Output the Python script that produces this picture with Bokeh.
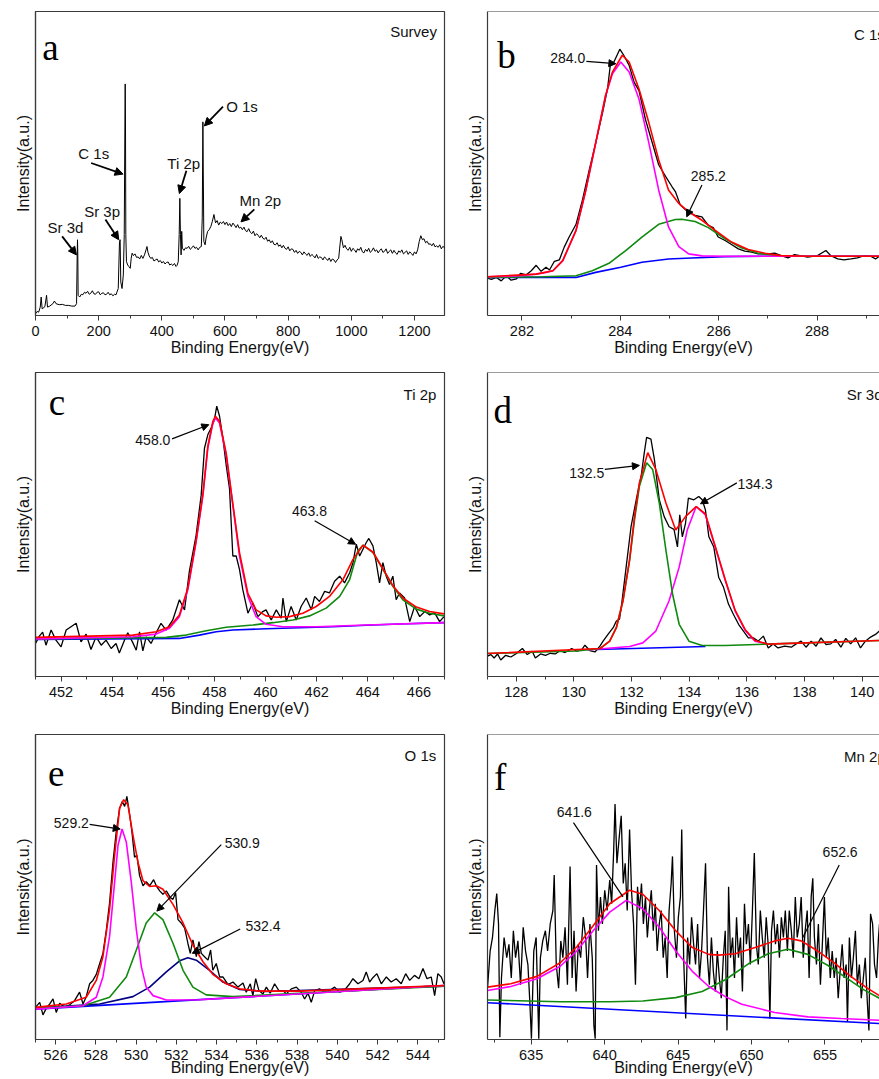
from bokeh.plotting import figure
from bokeh.layouts import row, column
from bokeh.models import Range1d, SingleIntervalTicker, FixedTicker, Label, Arrow, NormalHead, Span
from bokeh.embed import file_html
from bokeh.resources import INLINE

SANS = "Liberation Sans"
SERIF = "Liberation Serif"

# ---------------- data (binding energy eV, intensity a.u.) ----------------
a_survey = [(0,1.7),(5,4),(10,3.3),(15,8.3),(18,18.3),(21,6.7),(25,7.3),(30,9.3),(35,20),(38,8.3),(45,9.3),(55,11.7),(60,14.3),(65,11.7),(75,10.7),(85,11),(95,10),(105,10),(115,9.3),(125,9.3),(130,11.7),(132,60),(133,75),(134,60),(135,20),
            (140,18.3),(145,21),(150,20.5),(155,23),(160,22),(165,24),(170,21),(175,22),(180,24.5),(185,21.5),(190,21),(195,23),(200,23.5),(205,20.5),(210,22),(215,22.5),(220,20.5),(225,21),(230,23),(235,20.5),(240,21.5),(245,19.5),(250,21),(255,20.5),(258,23.3),
            (262,26.7),(266,73.3),(268,75),(270,33.3),(274,26.7),(278,40),(281,80),(283,186.7),(284,229.3),(285,186.7),(286,80),(288,53.3),(292,50),(296,48.3),
            (300,46.7),(303,56.7),(306,61.7),(310,59.3),(315,61),(320,57.5),(325,58),(330,56),(335,59.5),(340,56.5),(345,60),(350,65),(353,68.3),(356,62.7),(360,59),(365,56.5),(370,57.5),(375,54),(380,55),(385,56),(390,53),(395,54.5),(400,52),(405,53.5),(410,51),(415,52.5),(420,53),(425,50),(430,51),(435,49.5),(440,51.5),(445,48.5),(448,49.5),(452,53.3),
            (455,80),(457,116),(459,80),(461,60),(463,83.3),(465,66.7),(470,64.5),(475,67),(480,66.5),(485,68.5),(490,65.5),(495,67),(500,69),(505,66.5),(510,67.5),(515,65),(520,67.5),(525,68.3),
            (528,96.7),(530,191.7),(531,150),(532,113.3),(533,73.3),(537,70),
            (540,76.7),(545,83.3),(550,85),(555,88),(560,93.3),(565,100),(570,91.7),(575,94),(580,89.5),(585,92.5),(590,91),(595,93),
            (600,90),(605,92.5),(610,89),(615,91),(620,88),(625,91.5),(630,89.5),(635,87),(640,90),(645,86.5),(650,87.5),(655,85),(660,87.5),(665,84),(670,83),(675,86),(680,82.5),(685,81),(690,83.5),(695,79),(700,81),(705,79.5),(710,77),(715,79.5),(720,76.5),(725,75.5),(730,77.5),(735,73.5),(740,75),(745,72),(750,74),(755,70.5),(760,70),(765,72),(770,68.5),(775,70),(780,67),(785,69.5),(790,66.5),(795,65.5),(800,68),(805,64),(810,66),(815,65.5),(820,62.5),(825,64.5),(830,61.5),(835,63.5),(840,62.5),(845,60),(850,63),(855,61),(860,59.5),(865,62),(870,58.5),(875,60.5),(880,59),(885,57),(890,60.5),(895,56.5),(900,58),(905,57.5),(910,55),(915,58),(920,56.5),(925,54.5),(930,57),(935,53.5),(940,56),(945,55),(950,52.5),(955,55),(960,56.7),
            (963,66.7),(967,78.3),(970,75),(975,67),(980,69.5),(985,66),(990,64.5),(995,67.5),(1000,63.5),(1005,66.5),(1010,65),(1015,62.5),(1020,66),(1025,64.5),(1030,67.5),(1035,63),(1040,62),(1045,65.5),(1050,63.5),(1055,66.5),(1060,62.5),(1065,64),(1070,67),(1075,63.5),(1080,65),(1085,62),(1090,64.5),(1095,66),(1100,62.5),(1105,63.5),(1110,66),(1115,61.5),(1120,63.5),(1125,65),(1130,61.5),(1135,64.5),(1140,62),(1145,60.5),(1150,64),(1155,62.5),(1160,65),(1165,61),(1170,62.5),(1175,64),(1180,60.5),(1185,63),(1190,61.5),(1195,59.5),(1200,63),(1205,61),(1210,65),
            (1215,73.3),(1220,79),(1225,75),(1230,76),(1235,72),(1240,73.5),(1245,70.5),(1250,71),(1255,69),(1260,71.5),(1265,68),(1270,69),(1275,67.5),(1280,70),(1285,66),(1290,68.5),(1295,67),(1300,66.5)]

b_black = [(281.30,37.0),(281.38,35.7),(281.48,37.7),(281.58,34.3),(281.68,39.3),(281.78,35),(281.89,36.3),(281.97,41.7),(282.09,40.3),(282.19,44.3),(282.29,49.7),(282.39,43.7),(282.49,47.7),(282.56,45),(282.66,53.7),(282.76,55),(282.86,67.7),(282.96,77.7),(283.10,90.3),(283.23,114.3),(283.37,144.3),(283.50,171),(283.64,201),(283.74,224.3),(283.80,249.3),(283.87,251),(283.99,263.7),(284.07,257.7),(284.18,247.7),(284.28,231),(284.38,222.7),(284.51,194.3),(284.65,171),(284.78,149.3),(284.92,137.7),(285.05,127.7),(285.12,122.7),(285.22,109.3),(285.35,103.7),(285.52,99),(285.66,97.7),(285.79,89.3),(285.89,87),(285.99,77.7),(286.13,74.3),(286.26,70.3),(286.40,66),(286.53,63.7),(286.67,62.7),(286.80,61),(287.00,61),(287.14,61.7),(287.27,59.3),(287.41,57),(287.54,60.3),(287.68,59),(287.81,57.7),(288.01,59.3),(288.18,64.3),(288.28,59.3),(288.42,56),(288.55,55),(288.69,56),(288.82,57),(288.96,59.3),(289.09,58.7),(289.19,56),(289.27,58.7)]
b_background = [(281.30,37.7),(283.10,37.7),(283.50,42.7),(284.01,47.7),(284.44,52.7),(284.98,56),(285.45,57),(286.13,58.3),(287.14,58.7),(289.27,58.7)]
b_peak_284 = [(281.30,38.3),(281.95,39.3),(282.29,41),(282.49,42.7),(282.63,44.3),(282.83,54.3),(283.10,84.3),(283.30,124.3),(283.50,171),(283.70,217.7),(283.84,239.3),(284.01,251),(284.18,241),(284.38,214.3),(284.58,171),(284.78,124.3),(284.98,87.7),(285.19,68.3),(285.39,61),(285.66,59),(286.13,58.7),(289.27,58.7)]
b_peak_285 = [(281.30,37.7),(282.42,38.3),(283.10,39.3),(283.43,44.3),(283.77,51.7),(284.11,64.3),(284.44,77.7),(284.78,90.3),(285.12,95),(285.25,95.3),(285.52,93),(285.79,87),(286.13,76),(286.46,67),(286.80,61.7),(287.14,59.3),(287.81,58.7),(289.27,58.7)]
b_envelope = [(281.30,38.3),(282.29,41),(282.63,44.3),(282.83,54.3),(283.10,84.3),(283.30,124.3),(283.50,171),(283.70,217.7),(283.84,241),(284.04,257.7),(284.18,251),(284.38,224.3),(284.58,191),(284.78,154.3),(284.98,124.3),(285.19,111),(285.39,102.7),(285.66,94.3),(285.93,84.3),(286.26,72.7),(286.60,65.3),(286.94,61.7),(287.27,59.3),(287.81,58.7),(289.27,58.7)]

c_black = [(451.00,32.7),(451.15,40),(451.28,44),(451.41,31),(451.61,46),(451.80,36),(452.00,29.3),(452.20,46),(452.39,49.3),(452.59,52.7),(452.78,34.3),(452.98,42),(453.17,26.7),(453.37,39.3),(453.57,31),(453.76,36),(453.96,27.7),(454.15,32.7),(454.28,23.3),(454.48,36),(454.61,43.3),(454.81,33.3),(454.94,26),(455.07,44.3),(455.20,25.3),(455.33,39.3),(455.52,32.7),(455.72,43.3),(455.91,52.7),(456.11,46),(456.37,56),(456.63,76),(456.83,66),(457.02,104.3),(457.28,139.3),(457.48,179.3),(457.61,226),(457.74,239.3),(457.87,246),(458.00,254.3),(458.09,267.7),(458.20,257.7),(458.33,236),(458.46,209.3),(458.59,186),(458.72,119.3),(458.85,119.3),(458.98,106),(459.11,86),(459.31,62.7),(459.50,72.7),(459.70,59.3),(459.89,64.3),(460.02,66),(460.22,56),(460.42,66),(460.61,57.7),(460.68,77.7),(460.81,54.3),(461.00,69.3),(461.20,56),(461.39,69.3),(461.59,77.7),(461.79,66),(461.92,79.3),(462.11,74.3),(462.31,84.3),(462.50,82.7),(462.70,94.3),(462.90,99.3),(463.09,92.7),(463.29,102.7),(463.42,112.7),(463.55,131),(463.68,119.3),(463.81,126),(463.94,132.7),(464.04,136.7),(464.20,129.3),(464.33,112.7),(464.46,92.7),(464.59,112.7),(464.72,99.3),(464.85,91),(464.98,99.3),(465.11,76),(465.24,82.7),(465.44,77.7),(465.64,54.3),(465.83,69.3),(466.03,59.3),(466.23,64.3),(466.42,61),(466.61,63.3),(466.81,54.3),(466.98,59.3)]
c_background = [(451.00,36.7),(456.63,37.7),(457.41,41),(458.07,44.3),(458.72,46),(460.02,47.3),(461.33,48.3),(462.63,49.3),(463.94,50.7),(465.24,52),(466.98,53.3)]
c_peak_4638 = [(451.00,37.3),(456.11,38.7),(456.89,41),(457.68,45.3),(458.46,48.7),(459.50,51),(460.29,53.3),(461.07,56),(461.72,60),(462.37,67.7),(462.90,79.3),(463.29,96),(463.61,124.3),(463.81,130),(464.20,122.7),(464.59,106),(464.98,89.3),(465.37,76),(465.90,66.7),(466.42,62.7),(466.98,60)]
c_peak_4580 = [(451.00,37.3),(454.81,39.3),(455.72,42),(456.24,47.7),(456.63,59.3),(456.96,86),(457.28,132.7),(457.55,179.3),(457.74,226),(457.94,251),(458.04,256),(458.20,251),(458.46,219.3),(458.72,169.3),(458.98,119.3),(459.31,79.3),(459.63,59.3),(460.02,51.7),(460.68,49.3),(461.98,49.3),(463.94,51),(466.98,53.3)]
c_envelope = [(451.00,38.7),(454.81,41),(455.72,44.3),(456.24,49.3),(456.63,61),(456.96,87.7),(457.28,134.3),(457.55,181),(457.74,227.7),(457.94,252.7),(458.04,257.7),(458.20,252.7),(458.46,221),(458.72,171),(458.98,122.7),(459.31,82),(459.63,66),(460.02,60),(460.42,58.7),(460.94,59.3),(461.46,62.7),(461.98,69.3),(462.50,79.3),(463.03,96),(463.42,116),(463.81,130),(464.20,123.3),(464.59,106.7),(464.98,90),(465.37,77.7),(465.90,68.7),(466.42,64.3),(466.98,62)]

d_black = [(126.98,20),(127.12,21.7),(127.23,18.3),(127.35,22.3),(127.46,16.3),(127.63,21),(127.81,19.3),(127.98,22.3),(128.21,27.7),(128.38,21.7),(128.55,25),(128.66,18.3),(128.84,22.3),(129.01,21),(129.18,23),(129.35,22.3),(129.52,25.7),(129.69,23.7),(129.92,27.7),(130.10,25),(130.27,26.7),(130.38,31),(130.55,25.7),(130.73,24.3),(130.90,30),(131.01,35),(131.18,41.7),(131.36,48.3),(131.47,55),(131.58,56.7),(131.64,68.3),(131.81,108.3),(131.98,148.3),(132.16,175),(132.33,198.3),(132.44,221.7),(132.52,236.7),(132.67,235),(132.79,215),(132.96,175),(133.13,158.3),(133.30,148.3),(133.47,145.7),(133.59,128.3),(133.67,160),(133.76,138.3),(133.87,151.7),(133.97,176.7),(134.16,175),(134.33,178.3),(134.45,175),(134.56,165),(134.68,138.3),(134.85,128.3),(135.02,98.3),(135.19,88.3),(135.36,71.7),(135.53,61.7),(135.71,51.7),(135.88,45),(136.05,38.3),(136.22,38.3),(136.39,35),(136.57,40),(136.74,28.3),(136.91,32.3),(137.08,28.3),(137.31,30),(137.54,29),(137.71,32.3),(137.88,35),(138.05,29),(138.23,35),(138.40,30),(138.57,38.3),(138.74,31.7),(138.91,32.3),(139.08,36.7),(139.26,29),(139.43,37.7),(139.60,32.3),(139.77,38.3),(139.94,28.3),(140.11,35),(140.29,39),(140.46,41.7),(140.60,45)]
d_background = [(130.78,26.7),(134.56,29.7)]
d_peak_1325 = [(126.98,22.7),(130.10,25.3),(130.90,27.7),(131.24,35),(131.47,48.3),(131.70,75),(131.93,115),(132.10,155),(132.27,188.3),(132.52,211.7),(132.73,205),(132.96,171.7),(133.19,125),(133.42,81.7),(133.65,51.7),(133.99,35),(134.45,30.7),(135.25,30.7),(136.97,32.3),(140.60,35.7)]
d_peak_1343 = [(130.44,26.3),(131.93,29.7),(132.39,33.3),(132.84,45),(133.30,75),(133.65,108.3),(133.93,145),(134.24,168.3),(134.56,160),(134.90,128.3),(135.25,95),(135.59,65),(135.94,45.7),(136.28,35),(136.74,32),(136.97,32.3)]
d_envelope = [(126.98,22.7),(130.90,27.7),(131.24,35),(131.47,48.3),(131.70,75),(131.93,115.7),(132.10,158.3),(132.27,191.7),(132.56,221.7),(132.84,205),(133.19,171.7),(133.53,145),(133.87,158.3),(134.24,168.3),(134.56,161),(134.90,129),(135.25,95.7),(135.59,65.7),(135.94,46.3),(136.28,35.7),(136.74,32),(136.97,32.3),(140.60,35.7)]

e_black = [(525.00,31.7),(525.21,36.7),(525.37,24.3),(525.54,31),(525.70,35),(525.87,40),(526.03,26.7),(526.20,35.7),(526.45,31.7),(526.70,34.3),(526.94,38.3),(527.19,46.7),(527.36,35),(527.52,42.3),(527.69,55),(527.85,58.3),(528.02,64.3),(528.19,75),(528.35,85),(528.52,108.3),(528.68,135),(528.85,175),(529.01,205),(529.18,228.3),(529.31,235),(529.43,230),(529.54,240),(529.68,221.7),(529.79,205),(529.92,180),(530.04,181.7),(530.17,161.7),(530.34,151.7),(530.50,155.7),(530.67,151.7),(530.87,157.7),(531.00,151.7),(531.17,146.7),(531.33,143.3),(531.50,146.7),(531.70,140),(531.83,138.3),(531.96,145),(532.08,118.3),(532.24,115),(532.41,110),(532.57,95),(532.69,85),(532.82,98.3),(532.99,81.7),(533.12,96.7),(533.24,85),(533.40,81.7),(533.57,78.3),(533.70,88.3),(533.81,68.3),(533.98,75),(534.15,61.7),(534.31,61.7),(534.56,54.3),(534.81,56.7),(535.06,51.7),(535.31,55.7),(535.47,46.7),(535.67,55),(535.80,43.3),(535.94,60),(536.10,48.3),(536.30,45),(536.47,51.7),(536.66,45.7),(536.88,55),(537.09,48.3),(537.29,48.3),(537.46,45),(537.71,50),(537.96,51.7),(538.20,46.7),(538.37,40),(538.54,45.7),(538.70,36.7),(538.87,48.3),(539.11,50),(539.36,46.7),(539.61,48.3),(539.86,51.7),(540.11,46.7),(540.36,49),(540.61,55),(540.77,60),(541.02,55),(541.27,58.3),(541.43,66.7),(541.60,56.7),(541.76,61),(541.96,65),(542.18,55),(542.43,61.7),(542.67,56.7),(542.92,60),(543.17,55),(543.39,65),(543.59,58.3),(543.83,63.3),(544.05,60),(544.25,70),(544.45,60),(544.66,61.7),(544.83,43.3),(544.99,65),(545.16,61.7),(545.29,55)]
e_background = [(525.00,30),(545.29,53.3)]
e_peak_5292 = [(525.00,30),(527.36,33.3),(528.02,41.7),(528.35,61.7),(528.68,101.7),(528.93,155),(529.10,191.7),(529.30,207.7),(529.51,195),(529.76,155),(530.01,108.3),(530.26,71.7),(530.50,51.7),(530.84,43.3),(531.50,39),(533.15,39.3),(545.29,53.3)]
e_peak_5309 = [(525.00,31),(527.36,33.3),(528.68,41.7),(529.51,61.7),(530.01,88.3),(530.50,115),(530.92,125),(531.33,118.3),(531.83,95),(532.33,68.3),(532.82,51.7),(533.48,44),(534.81,42.3),(545.29,52.7)]
e_peak_5324 = [(525.00,31),(528.19,35),(529.84,42.3),(530.67,51.7),(531.50,66.7),(532.16,77.7),(532.57,80.7),(532.99,78.3),(533.65,68.3),(534.31,56.7),(535.14,49.3),(536.47,47.3),(545.29,52.7)]
e_envelope = [(525.00,31.7),(526.53,35),(527.52,41.7),(528.02,58.3),(528.35,81.7),(528.68,128.3),(528.93,181.7),(529.18,228.3),(529.38,236.7),(529.59,231.7),(529.84,201.7),(530.09,175),(530.34,156.7),(530.67,151),(531.00,151.7),(531.33,148.3),(531.83,133.3),(532.33,115),(532.82,93.3),(533.32,76.7),(533.81,64.3),(534.48,55),(535.14,50),(536.13,47.7),(538.12,47.7),(545.29,53.3)]

f_black = [(632.03,50.7),(632.21,87.3),(632.37,100.7),(632.53,127.3),(632.66,144),(632.78,114),(632.87,2.3),(632.98,60.7),(633.16,100.7),(633.34,80.7),(633.49,94),(633.65,60.7),(633.79,107.3),(633.94,80.7),(634.10,97.3),(634.28,54),(634.46,110.7),(634.62,87.3),(634.78,74),(634.91,37.3),(635.02,0.7),(635.18,87.3),(635.34,100.7),(635.52,0.7),(635.63,80.7),(635.79,97.3),(635.97,107.3),(636.12,87.3),(636.30,114),(636.48,127.3),(636.57,162.3),(636.71,74),(636.87,50.7),(637.02,97.3),(637.16,80.7),(637.31,110.7),(637.47,54),(637.65,170.7),(637.79,60.7),(637.92,107.3),(638.06,47.3),(638.21,94),(638.37,80.7),(638.55,120.7),(638.71,100.7),(638.84,60.7),(639.00,114),(639.16,80.7),(639.27,14),(639.36,0.7),(639.45,172.3),(639.58,107.3),(639.72,140.7),(639.85,114),(640.01,147.3),(640.17,127.3),(640.35,157.3),(640.48,134),(640.62,187.3),(640.71,232.3),(640.84,174),(640.98,197.3),(641.13,220.7),(641.27,154),(641.40,174),(641.54,127.3),(641.70,207.3),(641.83,147.3),(641.97,114),(642.10,54),(642.24,150.7),(642.37,127.3),(642.51,154),(642.64,114),(642.78,140.7),(642.91,100.7),(643.04,127.3),(643.18,147.3),(643.31,107.3),(643.45,134),(643.58,87.3),(643.72,114),(643.85,127.3),(643.99,80.7),(644.12,100.7),(644.26,60.7),(644.39,127.3),(644.53,154),(644.62,180.7),(644.75,107.3),(644.89,80.7),(645.02,120.7),(645.16,140.7),(645.25,207.3),(645.38,80.7),(645.52,20.7),(645.65,100.7),(645.79,74),(645.92,120.7),(646.06,94),(646.19,74),(646.33,114),(646.46,60.7),(646.60,87.3),(646.73,127.3),(646.87,174),(647.00,80.7),(647.13,54),(647.27,100.7),(647.40,67.3),(647.54,47.3),(647.67,87.3),(647.81,60.7),(647.94,40.7),(648.08,80.7),(648.21,107.3),(648.33,9),(648.44,150.7),(648.57,80.7),(648.71,100.7),(648.84,60.7),(648.98,120.7),(649.11,80.7),(649.25,100.7),(649.38,47.3),(649.52,134),(649.65,94),(649.79,114),(649.92,74),(650.06,127.3),(650.19,184),(650.33,94),(650.46,74),(650.60,127.3),(650.73,100.7),(650.87,80.7),(651.00,120.7),(651.13,94),(651.25,20.7),(651.36,107.3),(651.49,127.3),(651.63,94),(651.76,114),(651.90,80.7),(652.03,120.7),(652.17,100.7),(652.30,127.3),(652.44,87.3),(652.57,127.3),(652.71,107.3),(652.84,80.7),(652.98,140.7),(653.11,100.7),(653.25,114),(653.38,140.7),(653.52,80.7),(653.65,107.3),(653.79,127.3),(653.92,60.7),(654.06,140.7),(654.17,159),(654.28,100.7),(654.42,74),(654.55,114),(654.69,54),(654.82,94),(654.96,140.7),(655.09,80.7),(655.22,100.7),(655.36,60.7),(655.49,87.3),(655.63,60.7),(655.76,80.7),(655.90,40.7),(656.03,67.3),(656.17,94),(656.30,60.7),(656.44,74),(656.53,17.3),(656.66,100.7),(656.80,60.7),(656.93,80.7),(657.07,107.3),(657.20,54),(657.34,74),(657.47,40.7),(657.61,60.7),(657.74,80.7),(657.88,37.3),(657.99,9),(658.10,124),(658.24,114),(658.37,74),(658.51,60.7),(658.64,100.7),(658.71,114)]
f_background = [(632.03,36.3),(658.71,15.7)]
f_peak_6526 = [(632.03,39),(636.98,37.3),(640.35,37.3),(642.60,38),(644.84,41.3),(646.64,47.3),(648.21,59),(649.79,74.7),(651.13,84.7),(652.48,89),(653.83,84),(655.18,73.3),(656.53,60),(657.65,49),(658.71,40.7)]
f_peak_6416 = [(632.03,48.3),(633.61,52.3),(635.40,60),(636.98,72.3),(638.10,87.3),(639.22,107.3),(640.35,125.7),(641.47,137.3),(642.60,129),(643.72,110.7),(644.84,87.3),(645.97,67.3),(647.09,52.3),(648.21,42.3),(649.34,34.7),(651.58,26.7),(653.83,22.3),(656.08,20.7),(658.71,19)]
f_envelope = [(632.03,51.7),(633.61,55),(635.40,62.3),(636.98,75.7),(638.10,91.3),(639.22,112.3),(640.35,134),(641.70,147.3),(642.60,143.3),(643.72,127.3),(644.84,107.3),(645.97,90.7),(647.09,84),(647.76,83.3),(648.89,84.7),(650.24,90.7),(651.58,97.3),(652.48,100),(653.38,97.3),(654.51,87.3),(655.63,75.7),(656.75,62.3),(657.88,50.7),(658.71,43.3)]

# annotation texts: (text, x, y) and arrows (x0, y0, x1, y1)
a_notes = [("Sr 3d", 94.9, 86.7), ("Sr 3p", 210.9, 102.7), ("C 1s", 184.5, 160), ("Ti 2p", 469.3, 150.7), ("O 1s", 653.8, 207.3), ("Mn 2p", 711.8, 114.3)]
a_arrows = [(84.4, 78.3, 129.7, 60), (221.4, 95, 263.6, 75), (176.1, 151, 277.3, 140), (477.7, 143.3, 455.5, 120.7), (593.7, 206.7, 534.6, 187.7), (692.8, 105, 650.6, 92.7)]
b_notes = [("284.0", 282.93, 255), ("285.2", 285.79, 137.7)]
b_arrows = [(283.31, 251.7, 283.91, 249.3), (285.66, 129.3, 285.35, 97.7)]
c_notes = [("458.0", 455.59, 233.7), ("463.8", 461.72, 164.3)]
c_arrows = [(456.34, 235.3, 457.78, 249.3), (461.92, 154.3, 463.52, 131)]
d_notes = [("132.5", 130.44, 201.7), ("134.3", 136.28, 191)]
d_arrows = [(131.07, 205, 132.27, 209), (135.65, 191.7, 134.39, 171)]
e_notes = [("529.2", 526.78, 213.3), ("530.9", 535.27, 194.3), ("532.4", 536.3, 112.3)]
e_arrows = [(527.69, 212.3, 529.21, 207.7), (534.23, 192.3, 531.03, 126.7), (535.17, 109, 532.79, 85)]
f_notes = [("641.6", 637.94, 224.7), ("652.6", 656.03, 184.7)]
f_lines = [(637.88, 214, 641.25, 140.7), (655.97, 172.3, 653.49, 100.7)]

RED, MAG, GRN, BLU, NAVY = "#ff0000", "#ff00ff", "#0f8a0f", "#0000ff", "#000080"
FRAME = "#3a3a3a"
YTOP = 301


def xy(pairs):
    return [q[0] for q in pairs], [q[1] for q in pairs]


def make_panel(width, height, xr, interval, mbl, mbr, mbt, open_right=False, label_standoff=0):
    p = figure(width=width, height=height, x_range=Range1d(*xr), y_range=Range1d(0, YTOP),
               output_backend="svg", toolbar_location=None,
               min_border_left=mbl, min_border_right=mbr, min_border_top=mbt, min_border_bottom=40)
    p.xgrid.visible = False
    p.ygrid.visible = False
    p.background_fill_color = "white"
    p.border_fill_color = "white"
    if open_right:
        p.outline_line_color = None
        p.add_layout(Span(location=YTOP, dimension="width", line_color=FRAME, line_width=1.2))
    else:
        p.outline_line_color = FRAME
        p.outline_line_width = 1.2
    xa = p.below[0]
    xa.ticker = SingleIntervalTicker(interval=interval, num_minor_ticks=2)
    xa.axis_label = "Binding Energy(eV)"
    xa.axis_label_text_font = SANS
    xa.axis_label_text_font_size = "16px"
    xa.axis_label_text_font_style = "normal"
    xa.axis_label_text_color = "#111111"
    xa.axis_label_standoff = label_standoff
    xa.major_label_text_font = SANS
    xa.major_label_text_font_size = "14.5px"
    xa.major_label_text_color = "#111111"
    xa.major_label_standoff = 5
    xa.major_tick_in = 0
    xa.major_tick_out = 5
    xa.minor_tick_in = 0
    xa.minor_tick_out = 3
    xa.axis_line_color = FRAME
    xa.axis_line_width = 1.2
    xa.major_tick_line_color = FRAME
    xa.minor_tick_line_color = FRAME
    ya = p.left[0]
    ya.ticker = FixedTicker(ticks=[])
    ya.axis_label = "Intensity(a.u.)"
    ya.axis_label_text_font = SANS
    ya.axis_label_text_font_size = "16px"
    ya.axis_label_text_font_style = "normal"
    ya.axis_label_text_color = "#111111"
    ya.axis_label_standoff = 4
    ya.major_label_text_font_size = "0px"
    ya.major_label_standoff = 0
    ya.major_tick_out = 0
    ya.minor_tick_out = 0
    ya.axis_line_color = FRAME
    ya.axis_line_width = 1.2
    return p


def letter(p, txt, x, y):
    p.add_layout(Label(x=x, y=y, text=txt, text_font=SERIF, text_font_size="37px",
                       text_align="left", text_baseline="alphabetic", text_color="black"))


def tag(p, txt, x, y, align):
    p.add_layout(Label(x=x, y=y, text=txt, text_font=SANS, text_font_size="15px",
                       text_align=align, text_baseline="alphabetic", text_color="#111111"))


def notes(p, items, size="14px"):
    for t, x, y in items:
        p.add_layout(Label(x=x, y=y, text=t, text_font=SANS, text_font_size=size,
                           text_align="center", text_baseline="middle", text_color="#111111"))


def arrows(p, items, lw=1.2, head=7):
    for x0, y0, x1, y1 in items:
        p.add_layout(Arrow(end=NormalHead(size=head, fill_color="black", line_color="black", line_width=1),
                           x_start=x0, y_start=y0, x_end=x1, y_end=y1,
                           line_color="black", line_width=lw))


def curves(p, black, comps):
    bx, by = xy(black)
    p.line(bx, by, line_color="black", line_width=1.3)
    for data, col in comps:
        cx, cy = xy(data)
        p.line(cx, cy, line_color=col, line_width=1.6)


LW, RW = 463, 416
H1, H2, H3 = 358, 361, 360

# a: survey
pa = make_panel(LW, H1, (0, 1295), 200, 35, 19, 11)
sx, sy = xy(a_survey)
pa.line(sx, sy, line_color="black", line_width=1.0)
letter(pa, "a", 21, 265)
tag(pa, "Survey", 1271, 281, "right")
notes(pa, a_notes, "15px")
arrows(pa, a_arrows, lw=1.8, head=8)

# b: C 1s
pb = make_panel(RW, H1, (281.3, 289.27), 2, 21, 0, 11, open_right=True)
curves(pb, b_black, [(b_background, BLU), (b_peak_285, GRN), (b_peak_284, MAG), (b_envelope, RED)])
letter(pb, "b", 281.50, 257)
tag(pb, "C 1s", 288.75, 278.7, "left")
notes(pb, b_notes)
arrows(pb, b_arrows)

# c: Ti 2p
pc = make_panel(LW, H2, (451, 467), 2, 35, 19, 14)
curves(pc, c_black, [(c_background, BLU), (c_peak_4638, GRN), (c_peak_4580, MAG), (c_envelope, RED)])
letter(pc, "c", 451.52, 271)
tag(pc, "Ti 2p", 466.68, 279.3, "right")
notes(pc, c_notes)
arrows(pc, c_arrows)

# d: Sr 3d
pd = make_panel(RW, H2, (127, 140.6), 2, 21, 0, 14, open_right=True)
curves(pd, d_black, [(d_background, BLU), (d_peak_1343, MAG), (d_peak_1325, GRN), (d_envelope, RED)])
letter(pd, "d", 127.21, 263.3)
tag(pd, "Sr 3d", 139.46, 279, "left")
notes(pd, d_notes)
arrows(pd, d_arrows)

# e: O 1s
pe = make_panel(LW, H3, (525, 545.32), 2, 35, 19, 15, label_standoff=-4)
curves(pe, e_black, [(e_background, BLU), (e_peak_5324, NAVY), (e_peak_5309, GRN), (e_peak_5292, MAG), (e_envelope, RED)])
letter(pe, "e", 525.62, 262.3)
tag(pe, "O 1s", 544.91, 280, "right")
notes(pe, e_notes)
arrows(pe, e_arrows)

# f: Mn 2p
pf = make_panel(RW, H3, (632.03, 658.71), 5, 21, 0, 15, open_right=True, label_standoff=-4)
curves(pf, f_black, [(f_background, BLU), (f_peak_6526, GRN), (f_peak_6416, MAG), (f_envelope, RED)])
letter(pf, "f", 632.48, 259)
tag(pf, "Mn 2p", 656.30, 279.7, "left")
notes(pf, f_notes)
for x0, y0, x1, y1 in f_lines:
    pf.segment(x0=[x0], y0=[y0], x1=[x1], y1=[y1], line_color="black", line_width=1.2)

layout = column(row(pa, pb), row(pc, pd), row(pe, pf))

with open("out.html", "w") as fh:
    fh.write(file_html(layout, INLINE))
